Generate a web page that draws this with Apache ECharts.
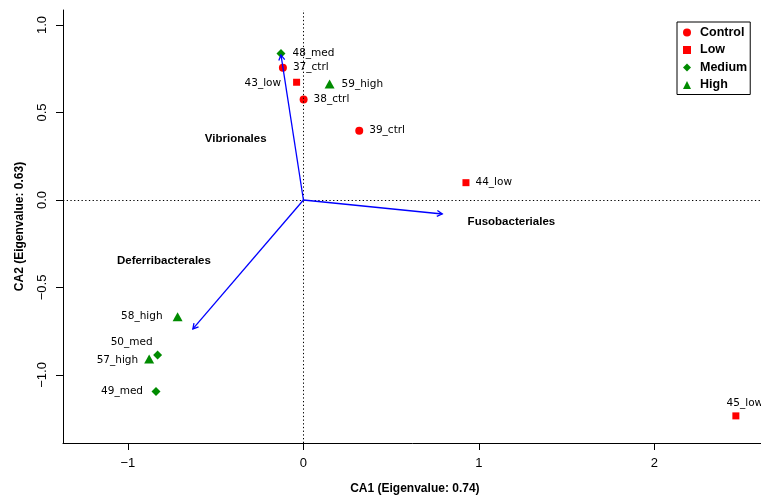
<!DOCTYPE html>
<html><head><meta charset="utf-8">
<script src="https://cdn.jsdelivr.net/npm/echarts@6/dist/echarts.min.js"></script>
<style>html,body{margin:0;padding:0;background:#fff}#c{width:761px;height:497px}</style>
</head><body><div id="c"></div>
<script>
// ---- data ----
const sampleNames = ['37_ctrl','38_ctrl','39_ctrl','43_low','44_low','45_low','48_med','49_med','50_med','57_high','58_high','59_high'];
const sampleGroup = ['Control','Control','Control','Low','Low','Low','Medium','Medium','Medium','High','High','High'];
const ca1 = [-0.117, 0.001, 0.318, -0.039, 0.926, 2.464, -0.128, -0.840, -0.831, -0.879, -0.717, 0.149];
const ca2 = [0.756, 0.575, 0.396, 0.673, 0.099, -1.234, 0.838, -1.095, -0.886, -0.909, -0.667, 0.663];
const groups = ['Control','Low','Medium','High'];
const speciesNames = ['Vibrionales','Fusobacteriales','Deferribacterales'];
const speciesCA1 = [-0.128, 0.791, -0.630];
const speciesCA2 = [0.829, -0.080, -0.737];
const speciesLabelCA1 = [-0.386, 1.185, -0.795];
const speciesLabelCA2 = [0.347, -0.127, -0.347];
const xTicks = [-1, 0, 1, 2];
const yTicks = [-1, -0.5, 0, 0.5, 1];
const xTitle = 'CA1 (Eigenvalue: 0.74)';
const yTitle = 'CA2 (Eigenvalue: 0.63)';

// ---- styles ----
const groupStyle = {
  Control: {symbol: 'circle', size: 8, color: '#FF0000'},
  Low: {symbol: 'rect', size: 7, color: '#FF0000'},
  Medium: {symbol: 'diamond', size: 9, color: '#008B00'},
  High: {symbol: 'triangle', size: [10, 9], color: '#008B00'}
};
const labelStyle = {
  '43_low': {position: 'left', distance: 12, offset: [0, 1.5]},
  '58_high': {position: 'left', distance: 10},
  '57_high': {position: 'left', distance: 6, offset: [0, 1.5]},
  '49_med': {position: 'left', distance: 8.5},
  '50_med': {position: 'left', distance: 0.5, offset: [0, -12.3]},
  '45_low': {position: 'top', distance: 4, offset: [9, 0]},
  '48_med': {distance: 7},
  '59_high': {distance: 7}
};
const FONT = '"Liberation Sans", Arial, sans-serif';
const minus = s => String(s).replace('-', '\u2212');

const xMin = -1.37, xMax = 2.64, yMin = -1.389, yMax = 1.086;

const scatterSeries = groups.map((g, gi) => {
  const st = groupStyle[g];
  const data = [];
  sampleNames.forEach((n, i) => {
    if (sampleGroup[i] !== g) return;
    const item = {name: n, value: [ca1[i], ca2[i]]};
    if (labelStyle[n]) item.label = labelStyle[n];
    data.push(item);
  });
  const s = {
    name: g, type: 'scatter', symbol: st.symbol, symbolSize: st.size,
    itemStyle: {color: st.color, opacity: 1},
    z: 3,
    label: {show: true, formatter: '{b}', position: 'right', distance: 6, color: '#000',
      fontFamily: '"DejaVu Sans", Verdana, sans-serif', fontSize: 10.5},
    emphasis: {disabled: true},
    data
  };
  if (gi === 0) {
    s.markLine = {
      silent: true, symbol: ['none', 'none'], animation: false,
      label: {show: false},
      lineStyle: {color: '#000', type: [1.3, 2.4], width: 1},
      emphasis: {disabled: true},
      data: [{xAxis: 0}, {yAxis: 0}]
    };
  }
  return s;
});

const arrowSeries = {
  type: 'custom', name: 'species', z: 5, silent: true,
  data: speciesNames.map((n, i) => [speciesCA1[i], speciesCA2[i], speciesLabelCA1[i], speciesLabelCA2[i]]),
  encode: {x: 0, y: 1},
  renderItem: function (params, api) {
    const o = api.coord([0, 0]);
    const t = api.coord([api.value(0), api.value(1)]);
    const l = api.coord([api.value(2), api.value(3)]);
    const ang = Math.atan2(t[1] - o[1], t[0] - o[0]);
    const L = 6, a = Math.PI / 6;
    const h1 = [t[0] - L * Math.cos(ang - a), t[1] - L * Math.sin(ang - a)];
    const h2 = [t[0] - L * Math.cos(ang + a), t[1] - L * Math.sin(ang + a)];
    return {type: 'group', children: [
      {type: 'line', shape: {x1: o[0], y1: o[1], x2: t[0], y2: t[1]}, style: {stroke: '#0000FF', lineWidth: 1.3}},
      {type: 'polyline', shape: {points: [h1, t, h2]}, style: {stroke: '#0000FF', lineWidth: 1.3, fill: null}},
      {type: 'text', x: l[0], y: l[1], style: {text: speciesNames[params.dataIndex],
        font: 'bold 11.5px ' + FONT, fill: '#000', align: 'center', verticalAlign: 'middle'}}
    ]};
  }
};

const chart = echarts.init(document.getElementById('c'), null, {renderer: 'canvas'});
chart.setOption({
  animation: false,
  backgroundColor: '#fff',
  grid: {left: 63, top: 10, width: (xMax - xMin) * 175.5, height: 433, containLabel: false, outerBoundsMode: 'none'},
  legend: {
    data: groups, orient: 'vertical', left: 677, top: 22,
    backgroundColor: '#fff', borderColor: '#000', borderWidth: 1, borderRadius: 0,
    padding: [4, 3, 3, 6], itemWidth: 8, itemHeight: 8, itemGap: 4.5,
    selectedMode: false,
    textStyle: {fontFamily: FONT, fontWeight: 'bold', fontSize: 12.5, color: '#000', lineHeight: 12, padding: [0, 0, 0, 4]}
  },
  xAxis: {
    type: 'value', min: xMin, max: xMax,
    splitLine: {show: false},
    axisLine: {onZero: false, lineStyle: {color: '#000', width: 1}},
    axisTick: {customValues: xTicks, length: 7, lineStyle: {color: '#000', width: 1}},
    axisLabel: {customValues: xTicks, margin: 14, color: '#000', fontSize: 13, fontFamily: FONT, formatter: v => minus(v)},
    name: xTitle, nameLocation: 'middle', nameGap: 40,
    nameTextStyle: {fontFamily: FONT, fontWeight: 'bold', fontSize: 12, color: '#000'}
  },
  yAxis: {
    type: 'value', min: yMin, max: yMax,
    splitLine: {show: false},
    axisLine: {onZero: false, lineStyle: {color: '#000', width: 1}},
    axisTick: {customValues: yTicks, length: 7, lineStyle: {color: '#000', width: 1}},
    axisLabel: {customValues: yTicks, margin: 14, rotate: 90, color: '#000', fontSize: 13, fontFamily: FONT, formatter: v => minus(Number(v).toFixed(1))},
    name: yTitle, nameLocation: 'middle', nameGap: 37,
    nameTextStyle: {fontFamily: FONT, fontWeight: 'bold', fontSize: 12, color: '#000'}
  },
  series: [...scatterSeries, arrowSeries]
});
</script></body></html>
